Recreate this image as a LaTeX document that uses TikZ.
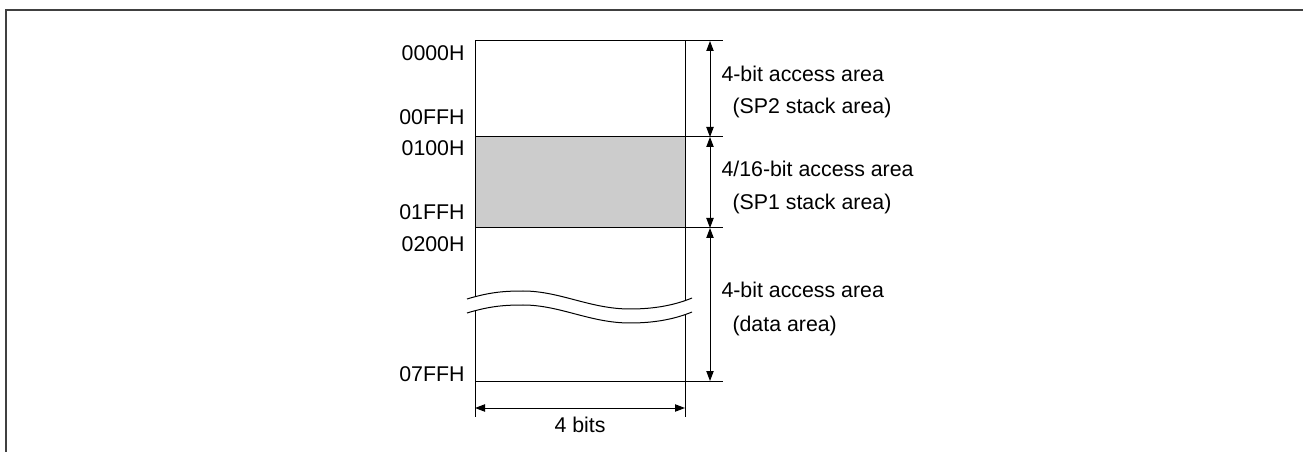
\documentclass[tikz,border=0pt]{standalone}
\usepackage{fontspec}
\setmainfont{Liberation Sans}
\usetikzlibrary{arrows.meta, positioning, calc}

\begin{document}
\begin{tikzpicture}[x=0.75pt, y=-0.75pt, line width=0.75pt,
    every node/.style={font=\fontsize{16}{19}\selectfont, inner sep=0pt},
    addr/.style={anchor=base east},
    note/.style={anchor=base west},
    dim/.style={{Triangle[length=7.5pt, width=5.5pt]}-{Triangle[length=7.5pt, width=5.5pt]}}]
    \useasboundingbox (0,0) rectangle (1303,452);

    % --- Frame ---
    \draw[line width=1.5pt, black!75] (6,452) -- (6,10) -- (1303,10);

    % --- Memory map ---
    \fill[black!20] (475,137) rectangle (685,228);
    \draw (475,41) -- (475,417);
    \draw (685,41) -- (685,417);
    \foreach \y in {41, 137, 228, 381}
        \draw (475,\y) -- (723,\y);

    % Break in the middle of the data area
    \fill[white] (467,299) .. controls (490,292) and (505,291) .. (523,291)
        .. controls (560,291) and (590,309) .. (630,309)
        .. controls (655,309) and (675,305) .. (692,298)
        -- (692,312) .. controls (675,319) and (655,323) .. (630,323)
        .. controls (590,323) and (560,305) .. (523,305)
        .. controls (505,305) and (490,306) .. (467,313) -- cycle;
    \foreach \dy in {0, 14}
        \draw (467,{299+\dy}) .. controls (490,{292+\dy}) and (505,{291+\dy}) .. (523,{291+\dy})
            .. controls (560,{291+\dy}) and (590,{309+\dy}) .. (630,{309+\dy})
            .. controls (655,{309+\dy}) and (675,{305+\dy}) .. (692,{298+\dy});

    % --- Addresses ---
    \foreach \y/\t in {61/0000H, 125/00FFH, 156/0100H, 220/01FFH, 252/0200H, 381/07FFH}
        \node[addr] (a\t) at (465,\y) {\t};

    % --- Area sizes ---
    \foreach \y [count=\i] in {41, 137, 228, 381}
        \coordinate (d\i) at (710,\y);
    \draw[dim] (d1) -- (d2);
    \draw[dim] (d2) -- (d3);
    \draw[dim] (d3) -- (d4);

    \node[note] (sp2) at (721,82) {4-bit access area};
    \node[note] (sp2b) at (732,114) {(SP2 stack area)};
    \node[note] (sp1) at (721,177) {4/16-bit access area};
    \node[note] (sp1b) at (732,210) {(SP1 stack area)};
    \node[note] (data) at (721,298) {4-bit access area};
    \node[note] (datab) at (732,331) {(data area)};

    % --- Width ---
    \coordinate (w1) at (475,408);
    \coordinate (w2) at (685,408);
    \draw[dim] (w1) -- (w2);
    \node[anchor=base] (bits) at (580,432) {4 bits};

\end{tikzpicture}
\end{document}
